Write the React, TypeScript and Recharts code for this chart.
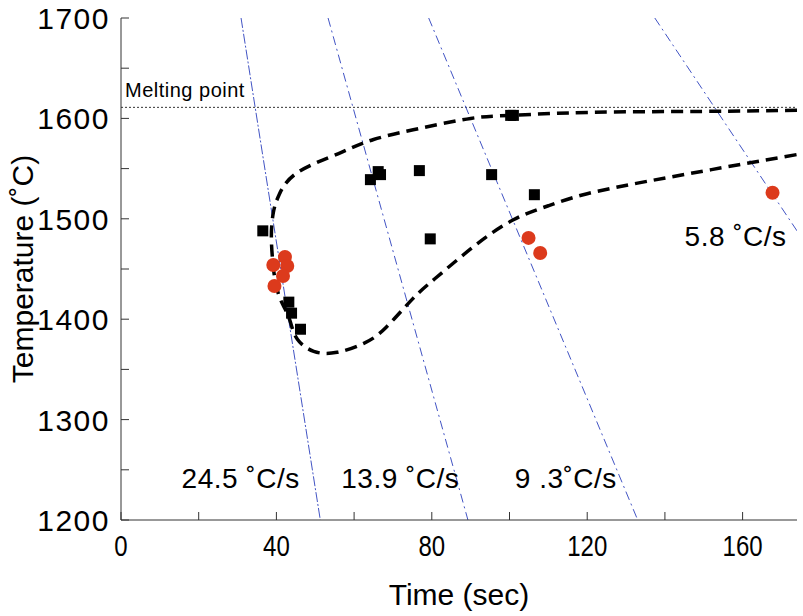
import React from 'react';
import {
  ComposedChart,
  Line,
  Scatter,
  XAxis,
  YAxis,
  ReferenceLine,
  ReferenceDot,
} from 'recharts';

// measured points (time s, temperature C)
const squares: [number, number][] = [
  [36.5, 1488], [43.2, 1417], [43.9, 1406], [46.2, 1390],
  [64.2, 1539], [66.2, 1547], [66.8, 1544], [76.8, 1548],
  [79.6, 1480], [95.4, 1544], [100.3, 1603], [101.0, 1603],
  [106.4, 1524],
];

const circles: [number, number][] = [
  [42.2, 1462], [39.2, 1454], [42.8, 1453], [41.7, 1443],
  [39.5, 1433], [104.9, 1481], [107.9, 1466], [167.7, 1526],
];

// C-shaped boundary, traced from upper right round to lower right
const envelope: [number, number][] = [
  [174, 1608], [150, 1607], [121, 1606], [100, 1603], [90, 1600],
  [78, 1591], [65, 1579], [56, 1565], [45.4, 1546], [40.7, 1524],
  [39.2, 1506], [38.7, 1483], [39.0, 1460], [39.5, 1443], [40.7, 1423],
  [42.4, 1409], [43.7, 1396], [45.4, 1380], [49.6, 1368], [55.6, 1367],
  [62.5, 1376], [68, 1391], [75, 1420], [81, 1441], [91, 1473],
  [101, 1499], [110, 1513], [120, 1525], [135, 1537], [152, 1549],
  [174, 1564],
];

// cooling-rate lines, end points read at the frame
const cool245: [number, number][] = [[30.9, 1700], [51.3, 1200]];
const cool139: [number, number][] = [[53.3, 1700], [89.3, 1200]];
const cool93: [number, number][] = [[79.2, 1700], [133.0, 1200]];
const cool58: [number, number][] = [[137.4, 1700], [174, 1488]];

const meltingPoint = 1611;

const notes: { text: string; x: number; y: number }[] = [
  { text: '24.5 ˚C/s', x: 30.8, y: 1242 },
  { text: '13.9 ˚C/s', x: 71.9, y: 1242 },
  { text: '9 .3˚C/s', x: 114.5, y: 1242 },
  { text: '5.8 ˚C/s', x: 158.2, y: 1483 },
];

const xTicks = [0, 20, 40, 60, 80, 100, 120, 140, 160];
const yTicks = [1200, 1250, 1300, 1350, 1400, 1450, 1500, 1550, 1600, 1650, 1700];

const toRows = (pts: [number, number][]) => pts.map(([x, y]) => ({ x, y }));

const FONT = '"Liberation Sans", Arial, Helvetica, sans-serif';
const FRAME = '#333';
const BLUE = '#4254c4';
const RED = '#dc3a1c';
const TICK = 8;

const BottomTick = (p: any) => (
  <g>
    <line x1={p.x} x2={p.x} y1={p.y} y2={p.y - TICK} stroke={FRAME} />
    {p.payload.value % 40 === 0 && (
      <text
        transform={`translate(${p.x} ${p.y + 36}) scale(0.8 1)`}
        textAnchor="middle"
        fontSize={30}
        fill="#000"
        fontFamily={FONT}
      >
        {p.payload.value}
      </text>
    )}
  </g>
);

const TopTick = (p: any) => (
  <line x1={p.x} x2={p.x} y1={p.y} y2={p.y + TICK} stroke={FRAME} />
);

const LeftTick = (p: any) => (
  <g>
    <line x1={p.x} x2={p.x + TICK} y1={p.y} y2={p.y} stroke={FRAME} />
    {p.payload.value % 100 === 0 && (
      <text x={p.x - 11} y={p.y + 11} textAnchor="end" fontSize={30} fill="#000" fontFamily={FONT} letterSpacing={1.5}>
        {p.payload.value}
      </text>
    )}
  </g>
);

const RightTick = (p: any) => (
  <line x1={p.x} x2={p.x - TICK} y1={p.y} y2={p.y} stroke={FRAME} />
);

const SquareDot = (p: any) => (
  <rect x={p.cx - 5.5} y={p.cy - 5.5} width={11} height={11} fill="#000" />
);

const RoundDot = (p: any) => <circle cx={p.cx} cy={p.cy} r={7} fill={RED} />;

const coolLines = [cool245, cool139, cool93, cool58];

export default function App() {
  return (
    <div style={{ position: 'absolute', left: 0, top: 0, background: '#fff' }}>
      <ComposedChart
        width={803}
        height={616}
        margin={{ top: 18, right: 6, bottom: 0, left: 0 }}
        style={{ fontFamily: FONT }}
      >
        <XAxis
          xAxisId="b"
          type="number"
          dataKey="x"
          domain={[0, 174]}
          ticks={xTicks}
          allowDataOverflow
          height={96}
          tickSize={0}
          tickMargin={0}
          tickLine={false}
          axisLine={{ stroke: FRAME }}
          tick={<BottomTick />}
          interval={0}
          label={{ value: 'Time (sec)', position: 'insideBottom', offset: 11, fontSize: 30, fill: '#000' }}
        />
        <XAxis
          xAxisId="t"
          orientation="top"
          type="number"
          dataKey="x"
          domain={[0, 174]}
          ticks={xTicks}
          allowDataOverflow
          height={0}
          tickSize={0}
          tickMargin={0}
          tickLine={false}
          axisLine={{ stroke: FRAME }}
          tick={<TopTick />}
          interval={0}
        />
        <YAxis
          yAxisId="l"
          type="number"
          domain={[1200, 1700]}
          ticks={yTicks}
          allowDataOverflow
          width={121}
          tickSize={0}
          tickMargin={0}
          tickLine={false}
          axisLine={{ stroke: FRAME }}
          tick={<LeftTick />}
          interval={0}
          label={{
            content: (lp: any) => {
              const vb = lp.viewBox;
              const cx = vb.x + 22;
              const cy = vb.y + vb.height / 2;
              return (
                <text
                  x={cx}
                  y={cy}
                  transform={`rotate(-90 ${cx} ${cy})`}
                  textAnchor="middle"
                  dominantBaseline="central"
                  fontSize={30}
                  fill="#000"
                  fontFamily={FONT}
                >
                  Temperature (˚C)
                </text>
              );
            },
          }}
        />
        <YAxis
          yAxisId="r"
          orientation="right"
          type="number"
          domain={[1200, 1700]}
          ticks={yTicks}
          allowDataOverflow
          width={0}
          tickSize={0}
          tickMargin={0}
          tickLine={false}
          axisLine={{ stroke: FRAME }}
          tick={<RightTick />}
          interval={0}
        />

        <ReferenceLine
          xAxisId="b"
          yAxisId="l"
          y={meltingPoint}
          stroke="#333"
          strokeWidth={1}
          strokeDasharray="2 2"
          label={{
            content: (lp: any) => {
              const vb = lp.viewBox;
              return (
                <text x={vb.x + 4} y={vb.y - 10} fontSize={20} fill="#000" fontFamily={FONT} letterSpacing={0.5}>
                  Melting point
                </text>
              );
            },
          }}
        />

        {coolLines.map((pts, i) => (
          <Line
            key={i}
            xAxisId="b"
            yAxisId="l"
            data={toRows(pts)}
            dataKey="y"
            type="linear"
            stroke={BLUE}
            strokeWidth={1}
            strokeDasharray={i === 0 ? '10 2 2 2' : '9 4 2 4'}
            dot={false}
            activeDot={false}
            isAnimationActive={false}
          />
        ))}

        <Line
          xAxisId="b"
          yAxisId="l"
          data={toRows(envelope)}
          dataKey="y"
          type="natural"
          stroke="#000"
          strokeWidth={3.5}
          strokeDasharray="12 7"
          dot={false}
          activeDot={false}
          isAnimationActive={false}
        />

        <Scatter
          xAxisId="b"
          yAxisId="l"
          data={toRows(squares)}
          dataKey="y"
          shape={<SquareDot />}
          isAnimationActive={false}
        />
        <Scatter
          xAxisId="b"
          yAxisId="l"
          data={toRows(circles)}
          dataKey="y"
          shape={<RoundDot />}
          isAnimationActive={false}
        />

        {notes.map((n) => (
          <ReferenceDot
            key={n.text}
            xAxisId="b"
            yAxisId="l"
            x={n.x}
            y={n.y}
            r={0}
            fill="none"
            stroke="none"
            label={{ value: n.text, position: 'center', fontSize: 28, fill: '#000', letterSpacing: 0.5 }}
          />
        ))}
      </ComposedChart>
    </div>
  );
}
